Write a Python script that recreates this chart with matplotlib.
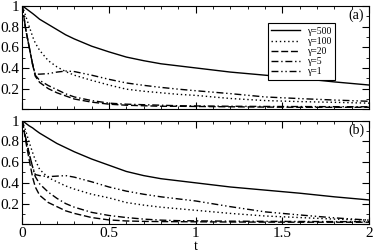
import numpy as np
import matplotlib
matplotlib.use('Agg')
import matplotlib.pyplot as plt
from matplotlib.ticker import MultipleLocator, FixedLocator, FixedFormatter

plt.rcParams['font.family'] = ['Liberation Serif', 'DejaVu Serif']
plt.rcParams['mathtext.fontset'] = 'stix'

# time grid
t = [0, 0.02, 0.04, 0.06, 0.075, 0.1, 0.15, 0.2, 0.25, 0.3, 0.4, 0.5,
     0.6, 0.7, 0.8, 0.9, 1.0, 1.2, 1.4, 1.6, 1.8, 2.0]

labels = ['\u03b3=500', '\u03b3=100', '\u03b3=20', '\u03b3=5', '\u03b3=1']

# panel (a)
a_g500 = [1, 0.975, 0.95, 0.925, 0.905, 0.87, 0.82, 0.77, 0.72, 0.68, 0.61, 0.555,
          0.505, 0.47, 0.44, 0.42, 0.40, 0.36, 0.33, 0.30, 0.265, 0.235]
a_g100 = [1, 0.9, 0.8, 0.7, 0.64, 0.57, 0.47, 0.41, 0.365, 0.33, 0.28, 0.235,
          0.195, 0.175, 0.16, 0.145, 0.135, 0.105, 0.085, 0.075, 0.068, 0.06]
a_g20 = [1, 0.77, 0.6, 0.43, 0.32, 0.26, 0.2, 0.16, 0.13, 0.1, 0.07, 0.05,
         0.04, 0.035, 0.03, 0.03, 0.028, 0.025, 0.022, 0.02, 0.02, 0.02]
a_g5 = [1, 0.77, 0.6, 0.43, 0.33, 0.28, 0.23, 0.19, 0.15, 0.12, 0.085, 0.06,
        0.05, 0.045, 0.04, 0.035, 0.033, 0.03, 0.028, 0.027, 0.026, 0.025]
a_g1 = [1, 0.77, 0.6, 0.43, 0.34, 0.34, 0.345, 0.36, 0.37, 0.365, 0.33, 0.29,
        0.255, 0.232, 0.212, 0.195, 0.18, 0.152, 0.12, 0.104, 0.09, 0.078]

# panel (b)
b_g500 = [1, 0.975, 0.95, 0.93, 0.91, 0.88, 0.83, 0.78, 0.74, 0.70, 0.63, 0.57,
          0.51, 0.47, 0.44, 0.42, 0.40, 0.36, 0.33, 0.30, 0.265, 0.235]
b_g100 = [1, 0.9, 0.79, 0.69, 0.62, 0.53, 0.45, 0.41, 0.37, 0.34, 0.29, 0.255,
          0.21, 0.185, 0.165, 0.15, 0.135, 0.105, 0.08, 0.065, 0.05, 0.04]
b_g20 = [1, 0.8, 0.62, 0.45, 0.36, 0.28, 0.21, 0.17, 0.13, 0.105, 0.065, 0.042,
         0.032, 0.028, 0.026, 0.025, 0.024, 0.022, 0.021, 0.02, 0.02, 0.02]
b_g5 = [1, 0.83, 0.68, 0.55, 0.46, 0.39, 0.31, 0.25, 0.2, 0.165, 0.115, 0.085,
        0.065, 0.05, 0.04, 0.035, 0.033, 0.03, 0.028, 0.027, 0.026, 0.025]
b_g1 = [1, 0.83, 0.68, 0.55, 0.48, 0.47, 0.46, 0.465, 0.47, 0.455, 0.41, 0.36,
        0.32, 0.29, 0.265, 0.245, 0.225, 0.17, 0.12, 0.09, 0.062, 0.04]

x_ticks = [0, 0.5, 1, 1.5, 2]
x_ticklabels = ['0', '0.5', '1', '1.5', '2']
y_ticks = [0, 0.2, 0.4, 0.6, 0.8, 1.0]
y_ticklabels = ['', '0.2', '0.4', '0.6', '0.8', '1']

styles = ['-', (0, (1, 2)), (0, (5, 2)), (0, (5, 2, 1, 2)), (0, (5, 2, 1, 2, 1, 2))]

fig = plt.figure(figsize=(3.74, 2.52), dpi=100)
ax1 = fig.add_axes([0.0596, 0.566, 0.9274, 0.411])
ax2 = fig.add_axes([0.0596, 0.110, 0.9274, 0.411])

for ax, data, tag in [(ax1, [a_g500, a_g100, a_g20, a_g5, a_g1], '(a)'),
                      (ax2, [b_g500, b_g100, b_g20, b_g5, b_g1], '(b)')]:
    for y, ls, lab in zip(data, styles, labels):
        ax.plot(t, y, color='black', lw=1.0, linestyle=ls, label=lab)
    ax.set_xlim(0, 2)
    ax.set_ylim(0, 1)
    ax.xaxis.set_major_locator(FixedLocator(x_ticks))
    ax.xaxis.set_minor_locator(MultipleLocator(0.1))
    ax.yaxis.set_major_locator(FixedLocator(y_ticks))
    ax.yaxis.set_major_formatter(FixedFormatter(y_ticklabels))
    ax.yaxis.set_minor_locator(MultipleLocator(0.1))
    ax.tick_params(which='both', direction='in', top=True, right=True, labelsize=11, pad=2)
    ax.tick_params(which='major', length=5, width=0.8)
    ax.tick_params(which='minor', length=2.5, width=0.6)
    ax.text(0.963, 0.905, tag, transform=ax.transAxes, ha='center', va='center', fontsize=10)

ax1.xaxis.set_major_formatter(FixedFormatter([''] * len(x_ticks)))
ax2.xaxis.set_major_formatter(FixedFormatter(x_ticklabels))
ax2.set_xlabel('t', fontsize=10, labelpad=0)

leg = ax1.legend(loc='upper right', bbox_to_anchor=(0.902, 0.83), fontsize=7,
                 frameon=True, fancybox=False, edgecolor='black', framealpha=1,
                 handlelength=2.9, labelspacing=0.12, borderpad=0.35,
                 handletextpad=0.8, borderaxespad=0)
leg.get_frame().set_linewidth(0.8)

fig.savefig('out.png', dpi=100)
